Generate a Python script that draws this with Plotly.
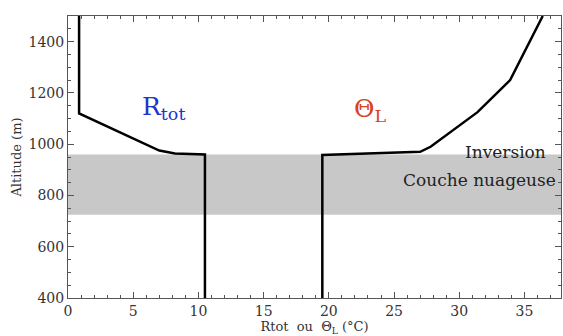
import plotly.graph_objects as go

# Rtot profile (g/kg) vs altitude (m)
rtot_x = [0.85, 0.85, 7.0, 8.2, 10.5, 10.5]
rtot_alt = [1500, 1120, 975, 964, 960, 400]

# Theta_L profile (°C) vs altitude (m)
thl_x = [19.5, 19.5, 27.0, 27.8, 31.4, 33.9, 36.4]
thl_alt = [400, 958, 970, 990, 1125, 1250, 1500]

# cloud layer bounds (m)
cloud_base = 725
cloud_top = 960

FONT = "DejaVu Serif"

fig = go.Figure()
fig.add_shape(type="rect", xref="paper", yref="y", x0=0, x1=1, y0=cloud_base, y1=cloud_top,
              fillcolor="#c8c8c8", line=dict(width=0), layer="below")
fig.add_trace(go.Scatter(x=rtot_x, y=rtot_alt, mode="lines", line=dict(color="black", width=2.5)))
fig.add_trace(go.Scatter(x=thl_x, y=thl_alt, mode="lines", line=dict(color="black", width=2.5)))

fig.add_annotation(x=7.3, y=1141, text="R<sub>tot</sub>", showarrow=False,
                   font=dict(family=FONT, size=25, color="#2233cc"))
fig.add_annotation(x=23.2, y=1135, text="Θ<sub>L</sub>", showarrow=False,
                   font=dict(family=FONT, size=25, color="#d8431c"))
fig.add_annotation(x=0.973, xref="paper", y=969, text="Inversion", showarrow=False, xanchor="right",
                   font=dict(family=FONT, size=17, color="#222222"))
fig.add_annotation(x=0.993, xref="paper", y=859, text="Couche nuageuse", showarrow=False, xanchor="right",
                   font=dict(family=FONT, size=17, color="#222222"))

axis_common = dict(showgrid=False, zeroline=False, showline=True, linecolor="#555555", linewidth=1,
                   mirror="allticks", ticks="inside", ticklen=6, tickcolor="#555555",
                   tickfont=dict(family=FONT, size=14, color="#333333"))

fig.update_xaxes(range=[0, 37.8], dtick=5, tick0=0,
                 minor=dict(dtick=1, ticks="inside", ticklen=3, tickcolor="#555555"),
                 title=dict(text="Rtot  ou  Θ<sub>L</sub> (°C)", font=dict(family=FONT, size=13, color="#333333"), standoff=2),
                 **axis_common)
fig.update_yaxes(range=[400, 1500], dtick=200, tick0=400,
                 minor=dict(dtick=50, ticks="inside", ticklen=3, tickcolor="#555555"),
                 title=dict(text="Altitude (m)", font=dict(family=FONT, size=13, color="#333333"), standoff=4),
                 **axis_common)

fig.update_layout(width=563, height=336, margin=dict(l=68, r=2, t=16, b=38),
                  plot_bgcolor="white", paper_bgcolor="white", showlegend=False)

fig.write_html("out.html", config={"displayModeBar": False},
               post_script="document.body.style.margin='0';document.body.style.padding='0';")
